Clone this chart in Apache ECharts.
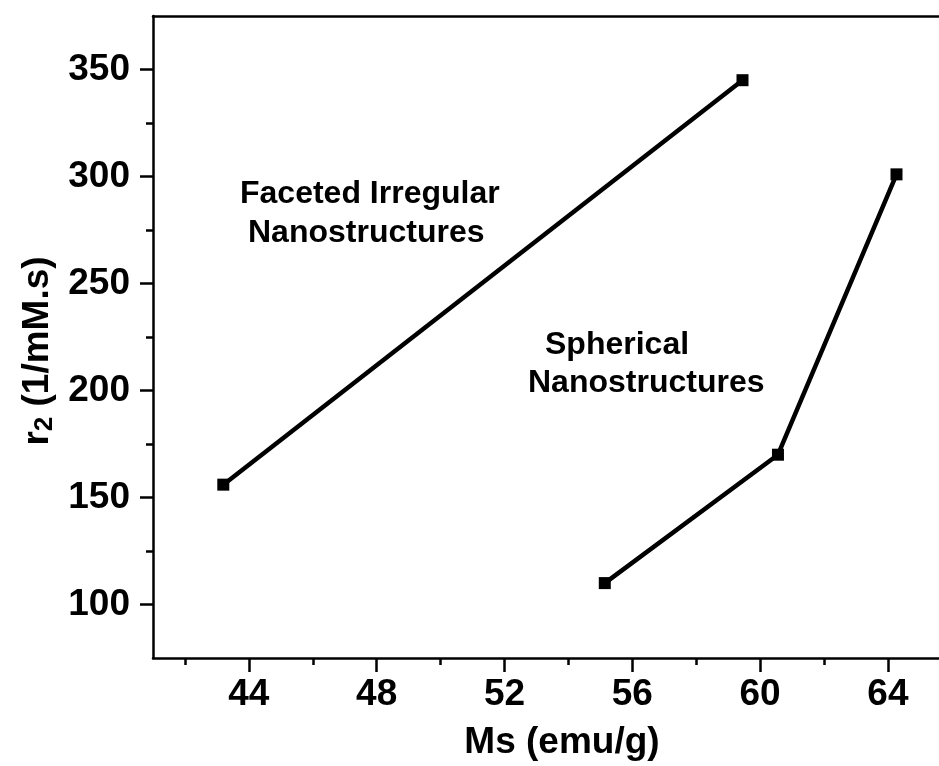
<!DOCTYPE html>
<html>
<head>
<meta charset="utf-8">
<script src="https://cdn.jsdelivr.net/npm/echarts@6/dist/echarts.min.js"></script>
<style>
html,body{margin:0;padding:0;background:#fff;}
#chart{width:939px;height:766px;}
</style>
</head>
<body>
<div id="chart"></div>
<script>
// ---- data ----
const facetedMs = [43.2, 59.45];
const facetedR2 = [156, 345];
const sphericalMs = [55.14, 60.56, 64.27];
const sphericalR2 = [110, 170, 301];

const xMajorTicks = [44, 48, 52, 56, 60, 64];
const xMinorTicks = [42, 46, 50, 54, 58, 62];
const yMajorTicks = [100, 150, 200, 250, 300, 350];
const yMinorTicks = [125, 175, 225, 275, 325];

const xName = 'Ms (emu/g)';
const annotFaceted = ['Faceted Irregular', 'Nanostructures'];
const annotSpherical = ['Spherical', 'Nanostructures'];

// ---- chart ----
const FONT = '"Liberation Sans", Arial, Helvetica, sans-serif';
const xMin = 41, xMax = 65.6, yMin = 75, yMax = 375;

const pairs = (xs, ys) => xs.map((x, i) => [x, ys[i]]);

const chart = echarts.init(document.getElementById('chart'), null, {renderer: 'canvas'});

const axisLineStyle = {color: '#000', width: 2.5};

const option = {
  backgroundColor: '#fff',
  animation: false,
  grid: {left: 153, right: 0, top: 16, bottom: 108, containLabel: false},
  xAxis: [
    {
      type: 'value', min: xMin, max: xMax, position: 'bottom',
      name: xName, nameLocation: 'middle', nameGap: 66,
      nameTextStyle: {fontFamily: FONT, fontWeight: 'bold', fontSize: 37, color: '#000', padding: [0, 0, 0, 32]},
      axisLine: {show: true, onZero: false, lineStyle: axisLineStyle},
      axisTick: {show: true, inside: false, length: 14, lineStyle: {color: '#000', width: 2.5}, customValues: xMajorTicks},
      axisLabel: {show: true, margin: 18, fontFamily: FONT, fontWeight: 'bold', fontSize: 37, color: '#000', customValues: xMajorTicks},
      splitLine: {show: false}
    },
    {
      type: 'value', min: xMin, max: xMax, position: 'bottom',
      axisLine: {show: false},
      axisTick: {show: true, inside: false, length: 7, lineStyle: {color: '#000', width: 2.5}, customValues: xMinorTicks},
      axisLabel: {show: false},
      splitLine: {show: false}
    },
    {
      type: 'value', min: xMin, max: xMax, position: 'top',
      axisLine: {show: true, onZero: false, lineStyle: axisLineStyle},
      axisTick: {show: false},
      axisLabel: {show: false},
      splitLine: {show: false}
    }
  ],
  yAxis: [
    {
      type: 'value', min: yMin, max: yMax, position: 'left',
      name: '{r|r}{sub|2}{n| (1/mM.s)}', nameLocation: 'middle', nameGap: 92,
      nameTextStyle: {
        fontFamily: FONT, fontWeight: 'bold', fontSize: 37, color: '#000',
        padding: [0, 28, 0, 0],
        rich: {
          r: {fontFamily: FONT, fontWeight: 'bold', fontSize: 37, lineHeight: 40, color: '#000'},
          sub: {fontFamily: FONT, fontWeight: 'bold', fontSize: 26, lineHeight: 18, verticalAlign: 'bottom', color: '#000'},
          n: {fontFamily: FONT, fontWeight: 'bold', fontSize: 37, lineHeight: 40, color: '#000'}
        }
      },
      axisLine: {show: true, onZero: false, lineStyle: axisLineStyle},
      axisTick: {show: true, inside: false, length: 13, lineStyle: {color: '#000', width: 2.5}, customValues: yMajorTicks},
      axisLabel: {show: true, margin: 23, fontFamily: FONT, fontWeight: 'bold', fontSize: 37, color: '#000', customValues: yMajorTicks},
      splitLine: {show: false}
    },
    {
      type: 'value', min: yMin, max: yMax, position: 'left',
      axisLine: {show: false},
      axisTick: {show: true, inside: false, length: 7, lineStyle: {color: '#000', width: 2.5}, customValues: yMinorTicks},
      axisLabel: {show: false},
      splitLine: {show: false}
    }
  ],
  series: [
    {
      name: 'Faceted Irregular Nanostructures', type: 'line',
      xAxisIndex: 0, yAxisIndex: 0,
      data: pairs(facetedMs, facetedR2),
      symbol: 'rect', symbolSize: 12,
      itemStyle: {color: '#000'},
      lineStyle: {color: '#000', width: 4.5},
      z: 3
    },
    {
      name: 'Spherical Nanostructures', type: 'line',
      xAxisIndex: 0, yAxisIndex: 0,
      data: pairs(sphericalMs, sphericalR2),
      symbol: 'rect', symbolSize: 12,
      itemStyle: {color: '#000'},
      lineStyle: {color: '#000', width: 4.5},
      z: 3
    }
  ],
  graphic: [
    {type: 'text', x: 240, y: 194, style: {text: annotFaceted[0], font: 'bold 32px ' + FONT, fill: '#000', textAlign: 'left', textVerticalAlign: 'middle'}},
    {type: 'text', x: 248, y: 233, style: {text: annotFaceted[1], font: 'bold 32px ' + FONT, fill: '#000', textAlign: 'left', textVerticalAlign: 'middle'}},
    {type: 'text', x: 545, y: 345, style: {text: annotSpherical[0], font: 'bold 32px ' + FONT, fill: '#000', textAlign: 'left', textVerticalAlign: 'middle'}},
    {type: 'text', x: 528, y: 383, style: {text: annotSpherical[1], font: 'bold 32px ' + FONT, fill: '#000', textAlign: 'left', textVerticalAlign: 'middle'}}
  ]
};

chart.setOption(option);
</script>
</body>
</html>
